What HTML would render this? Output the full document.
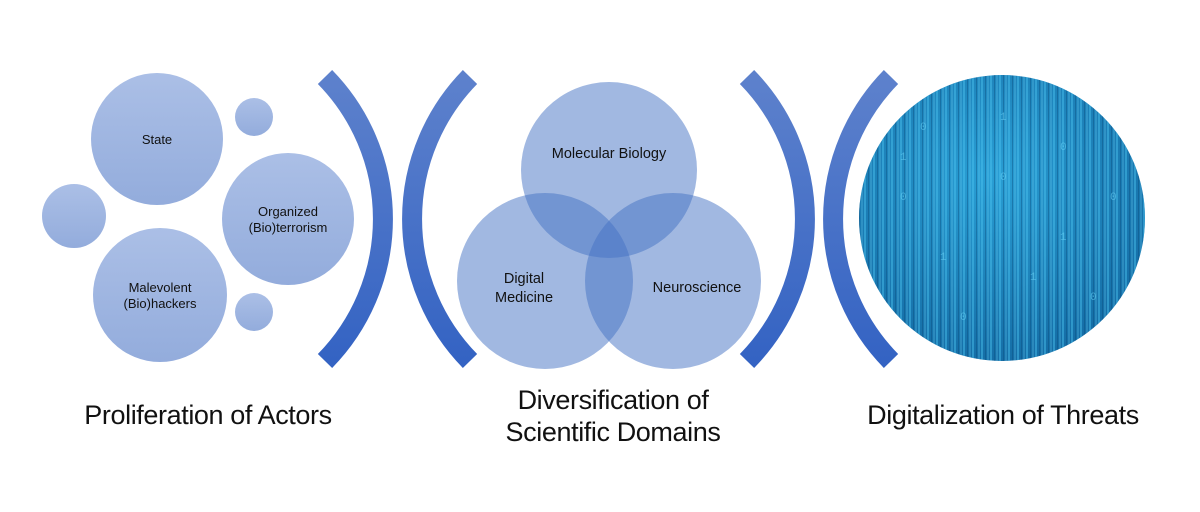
<!DOCTYPE html>
<html><head><meta charset="utf-8"><style>
html,body{margin:0;padding:0;background:#fff;}
body{width:1200px;height:512px;overflow:hidden;position:relative;font-family:"Liberation Sans",sans-serif;}
.lbl{position:absolute;font-size:27px;color:#111;text-align:center;line-height:32px;letter-spacing:-0.4px;white-space:nowrap;}
</style></head><body>
<svg width="1200" height="512" style="position:absolute;left:0;top:0">
<defs>
<linearGradient id="cg" x1="0" y1="0" x2="0" y2="1"><stop offset="0" stop-color="#abbfe6"/><stop offset="1" stop-color="#93acdc"/></linearGradient>
<linearGradient id="bg" x1="0" y1="0" x2="0" y2="1"><stop offset="0" stop-color="#5d81cc"/><stop offset="1" stop-color="#3463c3"/></linearGradient>
<radialGradient id="mg" cx="0.45" cy="0.35" r="0.7"><stop offset="0" stop-color="#2aa0d6"/><stop offset="1" stop-color="#136aa3"/></radialGradient>
<pattern id="st" width="9" height="287" patternUnits="userSpaceOnUse">
<rect x="0" y="0" width="2" height="287" fill="#4cc4f0" opacity="0.45"/>
<rect x="4" y="0" width="1" height="287" fill="#0a4b7a" opacity="0.4"/>
<rect x="6" y="0" width="2" height="287" fill="#6ad0f4" opacity="0.25"/>
</pattern>
<clipPath id="mc"><circle cx="1002" cy="218" r="143"/></clipPath>
</defs>
<g fill="url(#cg)">
<circle cx="157" cy="139" r="66"/>
<circle cx="254" cy="117" r="19"/>
<circle cx="74" cy="216" r="32"/>
<circle cx="288" cy="219" r="66"/>
<circle cx="160" cy="295" r="67"/>
<circle cx="254" cy="312" r="19"/>
</g>
<g font-size="13" fill="#111" text-anchor="middle">
<text x="157" y="144">State</text>
<text x="288" y="216">Organized</text>
<text x="288" y="232">(Bio)terrorism</text>
<text x="160" y="292">Malevolent</text>
<text x="160" y="308">(Bio)hackers</text>
</g>
<g fill="none" stroke="url(#bg)" stroke-width="20">
<path d="M325 77 A203 203 0 0 1 325 361"/>
<path d="M470 77 A203 203 0 0 0 470 361"/>
<path d="M747 77 A203 203 0 0 1 747 361"/>
<path d="M891 77 A203 203 0 0 0 891 361"/>
</g>
<g fill="#4472c4" fill-opacity="0.5">
<circle cx="609" cy="170" r="88"/>
<circle cx="545" cy="281" r="88"/>
<circle cx="673" cy="281" r="88"/>
</g>
<g font-size="14.5" fill="#111" text-anchor="middle">
<text x="609" y="158">Molecular Biology</text>
<text x="524" y="283">Digital</text>
<text x="524" y="302">Medicine</text>
<text x="697" y="292">Neuroscience</text>
</g>
<g clip-path="url(#mc)">
<rect x="859" y="75" width="287" height="287" fill="url(#mg)"/>
<rect x="859" y="75" width="287" height="287" fill="url(#st)"/>
<g font-family="Liberation Mono" font-size="11" fill="#66d0f6" opacity="0.6">
<text x="900" y="160">1</text><text x="900" y="200">0</text><text x="920" y="130">0</text><text x="940" y="260">1</text>
<text x="1000" y="120">1</text><text x="1000" y="180">0</text><text x="1060" y="150">0</text><text x="1060" y="240">1</text>
<text x="1090" y="300">0</text><text x="960" y="320">0</text><text x="1030" y="280">1</text><text x="1110" y="200">0</text>
</g>
</g>
</svg>
<div class="lbl" style="left:58px;top:399px;width:300px;">Proliferation of Actors</div>
<div class="lbl" style="left:463px;top:384px;width:300px;">Diversification of<br>Scientific Domains</div>
<div class="lbl" style="left:853px;top:399px;width:300px;">Digitalization of Threats</div>
</body></html>
